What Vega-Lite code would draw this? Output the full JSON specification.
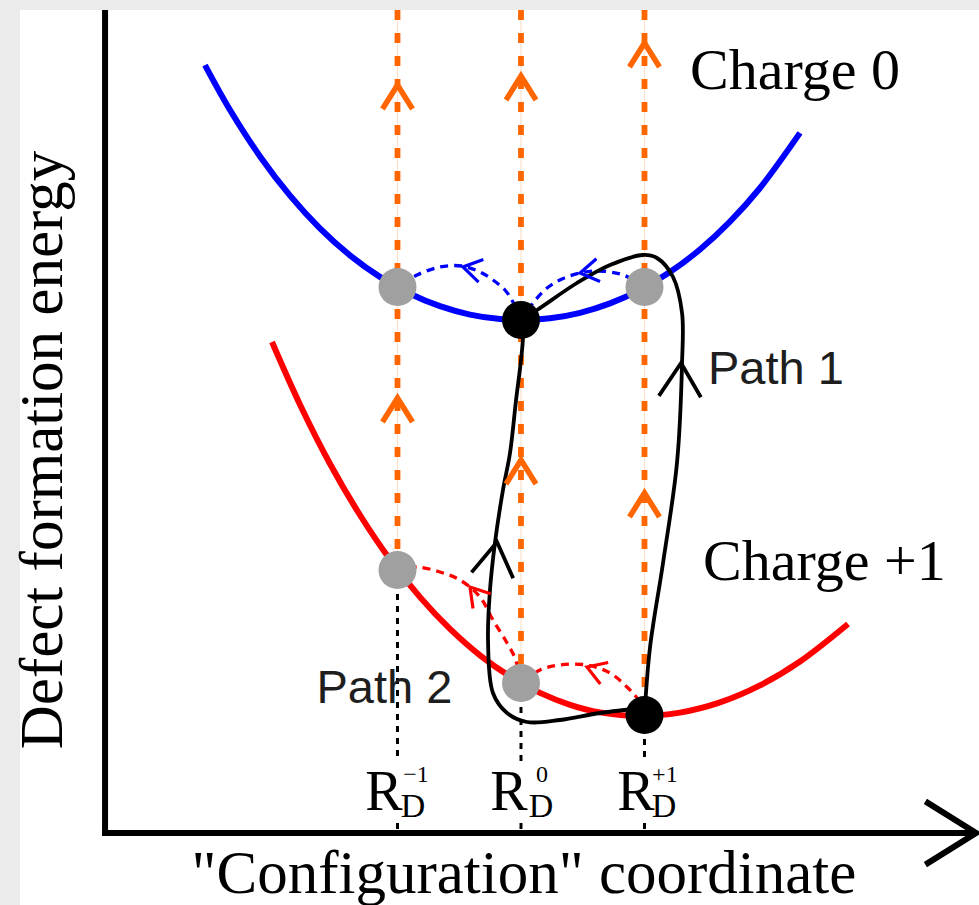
{
  "$schema": "https://vega.github.io/schema/vega-lite/v6.json",
  "width": 979,
  "height": 905,
  "autosize": {"type": "none"},
  "padding": 0,
  "background": "#ebebeb",
  "config": {"view": {"stroke": null}},
  "datasets": {
    "frame": [{"q0": -4.057, "q1": 3.7085, "E0": -0.70, "E1": 8.25}],
    "curves": [
      {"charge": "0", "i": 0, "q": -2.559, "E": 7.699},
      {"charge": "0", "i": 1, "q": -2.356, "E": 7.250},
      {"charge": "0", "i": 2, "q": -2.113, "E": 6.786},
      {"charge": "0", "i": 3, "q": -1.870, "E": 6.394},
      {"charge": "0", "i": 4, "q": -1.628, "E": 6.067},
      {"charge": "0", "i": 5, "q": -1.385, "E": 5.797},
      {"charge": "0", "i": 6, "q": -1.142, "E": 5.581},
      {"charge": "0", "i": 7, "q": -0.899, "E": 5.413},
      {"charge": "0", "i": 8, "q": -0.656, "E": 5.288},
      {"charge": "0", "i": 9, "q": -0.413, "E": 5.204},
      {"charge": "0", "i": 10, "q": -0.170, "E": 5.159},
      {"charge": "0", "i": 11, "q": 0.000, "E": 5.150},
      {"charge": "0", "i": 12, "q": 0.235, "E": 5.167},
      {"charge": "0", "i": 13, "q": 0.478, "E": 5.222},
      {"charge": "0", "i": 14, "q": 0.721, "E": 5.316},
      {"charge": "0", "i": 15, "q": 0.964, "E": 5.451},
      {"charge": "0", "i": 16, "q": 1.206, "E": 5.629},
      {"charge": "0", "i": 17, "q": 1.449, "E": 5.855},
      {"charge": "0", "i": 18, "q": 1.692, "E": 6.134},
      {"charge": "0", "i": 19, "q": 1.935, "E": 6.470},
      {"charge": "0", "i": 20, "q": 2.259, "E": 7.021},
      {"charge": "+1", "i": 0, "q": -2.016, "E": 4.930},
      {"charge": "+1", "i": 1, "q": -1.789, "E": 4.303},
      {"charge": "+1", "i": 2, "q": -1.547, "E": 3.713},
      {"charge": "+1", "i": 3, "q": -1.304, "E": 3.200},
      {"charge": "+1", "i": 4, "q": -1.061, "E": 2.756},
      {"charge": "+1", "i": 5, "q": -0.818, "E": 2.379},
      {"charge": "+1", "i": 6, "q": -0.575, "E": 2.061},
      {"charge": "+1", "i": 7, "q": -0.332, "E": 1.797},
      {"charge": "+1", "i": 8, "q": -0.089, "E": 1.586},
      {"charge": "+1", "i": 9, "q": 0.154, "E": 1.421},
      {"charge": "+1", "i": 10, "q": 0.397, "E": 1.302},
      {"charge": "+1", "i": 11, "q": 0.640, "E": 1.226},
      {"charge": "+1", "i": 12, "q": 0.964, "E": 1.190},
      {"charge": "+1", "i": 13, "q": 1.287, "E": 1.224},
      {"charge": "+1", "i": 14, "q": 1.611, "E": 1.326},
      {"charge": "+1", "i": 15, "q": 1.935, "E": 1.496},
      {"charge": "+1", "i": 16, "q": 2.259, "E": 1.735},
      {"charge": "+1", "i": 17, "q": 2.648, "E": 2.110}
    ],
    "arcs": [
      {"arc": "b1", "charge": "0", "i": 0, "q": 0.000, "E": 5.15},
      {"arc": "b1", "charge": "0", "i": 1, "q": -0.065, "E": 5.33},
      {"arc": "b1", "charge": "0", "i": 2, "q": -0.130, "E": 5.45},
      {"arc": "b1", "charge": "0", "i": 3, "q": -0.227, "E": 5.55},
      {"arc": "b1", "charge": "0", "i": 4, "q": -0.332, "E": 5.63},
      {"arc": "b1", "charge": "0", "i": 5, "q": -0.478, "E": 5.69},
      {"arc": "b1", "charge": "0", "i": 6, "q": -0.656, "E": 5.68},
      {"arc": "b1", "charge": "0", "i": 7, "q": -0.842, "E": 5.60},
      {"arc": "b1", "charge": "0", "i": 8, "q": -1.000, "E": 5.48},
      {"arc": "b2", "charge": "0", "i": 0, "q": 1.000, "E": 5.48},
      {"arc": "b2", "charge": "0", "i": 1, "q": 0.883, "E": 5.57},
      {"arc": "b2", "charge": "0", "i": 2, "q": 0.802, "E": 5.61},
      {"arc": "b2", "charge": "0", "i": 3, "q": 0.640, "E": 5.64},
      {"arc": "b2", "charge": "0", "i": 4, "q": 0.478, "E": 5.62},
      {"arc": "b2", "charge": "0", "i": 5, "q": 0.332, "E": 5.56},
      {"arc": "b2", "charge": "0", "i": 6, "q": 0.211, "E": 5.47},
      {"arc": "b2", "charge": "0", "i": 7, "q": 0.097, "E": 5.32},
      {"arc": "b2", "charge": "0", "i": 8, "q": 0.000, "E": 5.15},
      {"arc": "r1", "charge": "+1", "i": 0, "q": 0.000, "E": 1.52},
      {"arc": "r1", "charge": "+1", "i": 1, "q": -0.049, "E": 1.77},
      {"arc": "r1", "charge": "+1", "i": 2, "q": -0.113, "E": 1.92},
      {"arc": "r1", "charge": "+1", "i": 3, "q": -0.227, "E": 2.15},
      {"arc": "r1", "charge": "+1", "i": 4, "q": -0.332, "E": 2.38},
      {"arc": "r1", "charge": "+1", "i": 5, "q": -0.494, "E": 2.55},
      {"arc": "r1", "charge": "+1", "i": 6, "q": -0.656, "E": 2.63},
      {"arc": "r1", "charge": "+1", "i": 7, "q": -0.842, "E": 2.68},
      {"arc": "r1", "charge": "+1", "i": 8, "q": -1.000, "E": 2.65},
      {"arc": "r2", "charge": "+1", "i": 0, "q": 1.000, "E": 1.20},
      {"arc": "r2", "charge": "+1", "i": 1, "q": 0.939, "E": 1.37},
      {"arc": "r2", "charge": "+1", "i": 2, "q": 0.858, "E": 1.48},
      {"arc": "r2", "charge": "+1", "i": 3, "q": 0.721, "E": 1.62},
      {"arc": "r2", "charge": "+1", "i": 4, "q": 0.534, "E": 1.70},
      {"arc": "r2", "charge": "+1", "i": 5, "q": 0.316, "E": 1.70},
      {"arc": "r2", "charge": "+1", "i": 6, "q": 0.154, "E": 1.65},
      {"arc": "r2", "charge": "+1", "i": 7, "q": 0.000, "E": 1.52}
    ],
    "paths": [
      {"path": "Path 1", "i": 0, "q": 1.000, "E": 1.20},
      {"path": "Path 1", "i": 1, "q": 1.045, "E": 1.88},
      {"path": "Path 1", "i": 2, "q": 1.150, "E": 2.72},
      {"path": "Path 1", "i": 3, "q": 1.263, "E": 3.72},
      {"path": "Path 1", "i": 4, "q": 1.304, "E": 4.72},
      {"path": "Path 1", "i": 5, "q": 1.304, "E": 5.22},
      {"path": "Path 1", "i": 6, "q": 1.231, "E": 5.58},
      {"path": "Path 1", "i": 7, "q": 1.101, "E": 5.77},
      {"path": "Path 1", "i": 8, "q": 0.988, "E": 5.80},
      {"path": "Path 1", "i": 9, "q": 0.721, "E": 5.70},
      {"path": "Path 1", "i": 10, "q": 0.453, "E": 5.52},
      {"path": "Path 1", "i": 11, "q": 0.130, "E": 5.25},
      {"path": "Path 1", "i": 12, "q": 0.000, "E": 5.15},
      {"path": "Path 2", "i": 0, "q": 1.000, "E": 1.27},
      {"path": "Path 2", "i": 1, "q": 0.640, "E": 1.22},
      {"path": "Path 2", "i": 2, "q": 0.316, "E": 1.15},
      {"path": "Path 2", "i": 3, "q": 0.049, "E": 1.13},
      {"path": "Path 2", "i": 4, "q": -0.113, "E": 1.22},
      {"path": "Path 2", "i": 5, "q": -0.227, "E": 1.42},
      {"path": "Path 2", "i": 6, "q": -0.267, "E": 1.95},
      {"path": "Path 2", "i": 7, "q": -0.251, "E": 2.45},
      {"path": "Path 2", "i": 8, "q": -0.211, "E": 2.92},
      {"path": "Path 2", "i": 9, "q": -0.146, "E": 3.45},
      {"path": "Path 2", "i": 10, "q": -0.089, "E": 3.82},
      {"path": "Path 2", "i": 11, "q": -0.040, "E": 4.35},
      {"path": "Path 2", "i": 12, "q": 0.000, "E": 4.75},
      {"path": "Path 2", "i": 13, "q": 0.016, "E": 5.00},
      {"path": "Path 2", "i": 14, "q": 0.000, "E": 5.15}
    ],
    "levels": [
      {"q": -1, "top": 8.25, "bottom": 2.65},
      {"q": 0, "top": 8.25, "bottom": 1.52},
      {"q": 1, "top": 8.25, "bottom": 1.20}
    ],
    "markers": [
      {"q": -1, "top": 2.65, "bottom": 0.73},
      {"q": 0, "top": 1.52, "bottom": 0.73},
      {"q": 1, "top": 1.20, "bottom": 0.73},
      {"q": -1, "top": 0.12, "bottom": 0.02},
      {"q": 0, "top": 0.12, "bottom": 0.02},
      {"q": 1, "top": 0.12, "bottom": 0.02}
    ],
    "dots": [
      {"q": -1, "E": 5.48, "state": "excited"},
      {"q": 1, "E": 5.48, "state": "excited"},
      {"q": -1, "E": 2.65, "state": "excited"},
      {"q": 0, "E": 1.52, "state": "excited"},
      {"q": 0, "E": 5.15, "state": "equilibrium"},
      {"q": 1, "E": 1.20, "state": "equilibrium"}
    ],
    "arrows": [
      {"kind": "excitation", "charge": "none", "q": -1, "E": 7.50, "dir": 0},
      {"kind": "excitation", "charge": "none", "q": -1, "E": 4.37, "dir": 0},
      {"kind": "excitation", "charge": "none", "q": 0, "E": 7.59, "dir": 0},
      {"kind": "excitation", "charge": "none", "q": 0, "E": 3.75, "dir": 0},
      {"kind": "excitation", "charge": "none", "q": 1, "E": 7.92, "dir": 0},
      {"kind": "excitation", "charge": "none", "q": 1, "E": 3.42, "dir": 0},
      {"kind": "relaxation", "charge": "0", "q": -0.470, "E": 5.68, "dir": -78},
      {"kind": "relaxation", "charge": "0", "q": 0.478, "E": 5.62, "dir": -99},
      {"kind": "relaxation", "charge": "+1", "q": -0.413, "E": 2.48, "dir": -40},
      {"kind": "relaxation", "charge": "+1", "q": 0.534, "E": 1.68, "dir": -70},
      {"kind": "path", "charge": "none", "q": 1.296, "E": 4.72, "dir": 2},
      {"kind": "path", "charge": "none", "q": -0.194, "E": 2.93, "dir": 8}
    ],
    "axisLines": [
      {"axis": "E", "q": -3.368, "q2": -3.368, "E": 8.25, "E2": -0.01},
      {"axis": "q", "q": -3.39, "q2": 3.684, "E": 0.02, "E2": 0.02}
    ],
    "axisHead": [{"q": 3.684, "E": 0.02, "dir": 90}],
    "labels": [
      {"role": "state", "text": "Charge 0", "q": 1.368, "E": 7.465},
      {"role": "state", "text": "Charge +1", "q": 1.474, "E": 2.55},
      {"role": "path", "text": "Path 1", "q": 1.514, "E": 4.51},
      {"role": "path", "text": "Path 2", "q": -1.656, "E": 1.32},
      {"role": "R", "text": "R", "q": -1.109, "E": 0.25},
      {"role": "R", "text": "R", "q": -0.097, "E": 0.25},
      {"role": "R", "text": "R", "q": 0.931, "E": 0.25},
      {"role": "sub", "text": "D", "q": -0.874, "E": 0.18},
      {"role": "sub", "text": "D", "q": 0.162, "E": 0.18},
      {"role": "sub", "text": "D", "q": 1.158, "E": 0.18},
      {"role": "sup", "text": "−1", "q": -0.850, "E": 0.53},
      {"role": "sup", "text": "0", "q": 0.170, "E": 0.53},
      {"role": "sup", "text": "+1", "q": 1.165, "E": 0.53},
      {"role": "ytitle", "text": "Defect formation energy", "q": -3.717, "E": 3.85},
      {"role": "xtitle", "text": "\"Configuration\" coordinate", "q": 0.024, "E": -0.58}
    ]
  },
  "layer": [
    {
      "data": {"name": "frame"},
      "mark": {"type": "rect", "color": "#ffffff"},
      "encoding": {
        "x": {"field": "q0", "type": "quantitative", "scale": {"domain": [-4.2186, 3.7085], "nice": false, "zero": false}, "axis": null},
        "x2": {"field": "q1"},
        "y": {"field": "E0", "type": "quantitative", "scale": {"domain": [-0.70, 8.35], "nice": false, "zero": false}, "axis": null},
        "y2": {"field": "E1"}
      }
    },
    {
      "data": {"name": "levels"},
      "mark": {"type": "rule", "color": "#ffe0cc", "strokeWidth": 1.2},
      "encoding": {
        "x": {"field": "q", "type": "quantitative"},
        "y": {"field": "top", "type": "quantitative"},
        "y2": {"field": "bottom"}
      }
    },
    {
      "data": {"name": "levels"},
      "mark": {"type": "rule", "color": "#ff6600", "strokeWidth": 5.8, "strokeDash": [10, 13]},
      "encoding": {
        "x": {"field": "q", "type": "quantitative"},
        "y": {"field": "top", "type": "quantitative"},
        "y2": {"field": "bottom"}
      }
    },
    {
      "data": {"name": "markers"},
      "mark": {"type": "rule", "color": "#000000", "strokeWidth": 3, "strokeDash": [6, 6]},
      "encoding": {
        "x": {"field": "q", "type": "quantitative"},
        "y": {"field": "top", "type": "quantitative"},
        "y2": {"field": "bottom"}
      }
    },
    {
      "data": {"name": "curves"},
      "mark": {"type": "line", "interpolate": "catmull-rom", "strokeWidth": 6},
      "encoding": {
        "x": {"field": "q", "type": "quantitative"},
        "y": {"field": "E", "type": "quantitative"},
        "order": {"field": "i", "type": "quantitative"},
        "color": {"field": "charge", "type": "nominal", "scale": {"domain": ["0", "+1", "none"], "range": ["#0000ff", "#ff0000", "#000000"]}, "legend": null}
      }
    },
    {
      "data": {"name": "arcs"},
      "mark": {"type": "line", "interpolate": "catmull-rom", "strokeWidth": 3.3, "strokeDash": [8, 6]},
      "encoding": {
        "x": {"field": "q", "type": "quantitative"},
        "y": {"field": "E", "type": "quantitative"},
        "order": {"field": "i", "type": "quantitative"},
        "detail": {"field": "arc", "type": "nominal"},
        "color": {"field": "charge", "type": "nominal", "legend": null}
      }
    },
    {
      "data": {"name": "paths"},
      "mark": {"type": "line", "interpolate": "catmull-rom", "strokeWidth": 3.8, "color": "#000000"},
      "encoding": {
        "x": {"field": "q", "type": "quantitative"},
        "y": {"field": "E", "type": "quantitative"},
        "order": {"field": "i", "type": "quantitative"},
        "detail": {"field": "path", "type": "nominal"}
      }
    },
    {
      "data": {"name": "arrows"},
      "transform": [{"filter": "datum.kind === 'excitation'"}],
      "mark": {"type": "point", "shape": "M -1 1.6 L 0 0 L 1 1.6", "filled": false, "size": 900, "strokeWidth": 5.5, "color": "#ff6600", "opacity": 1},
      "encoding": {
        "x": {"field": "q", "type": "quantitative"},
        "y": {"field": "E", "type": "quantitative"},
        "angle": {"field": "dir", "type": "quantitative", "scale": null}
      }
    },
    {
      "data": {"name": "arrows"},
      "transform": [{"filter": "datum.kind === 'relaxation'"}],
      "mark": {"type": "point", "shape": "M -1 1.6 L 0 0 L 1 1.6", "filled": false, "size": 529, "strokeWidth": 3.2, "opacity": 1},
      "encoding": {
        "x": {"field": "q", "type": "quantitative"},
        "y": {"field": "E", "type": "quantitative"},
        "angle": {"field": "dir", "type": "quantitative", "scale": null},
        "color": {"field": "charge", "type": "nominal", "legend": null}
      }
    },
    {
      "data": {"name": "arrows"},
      "transform": [{"filter": "datum.kind === 'path'"}],
      "mark": {"type": "point", "shape": "M -1 1.6 L 0 0 L 1 1.6", "filled": false, "size": 1764, "strokeWidth": 3.8, "color": "#000000", "opacity": 1},
      "encoding": {
        "x": {"field": "q", "type": "quantitative"},
        "y": {"field": "E", "type": "quantitative"},
        "angle": {"field": "dir", "type": "quantitative", "scale": null}
      }
    },
    {
      "data": {"name": "dots"},
      "mark": {"type": "point", "shape": "circle", "filled": true, "size": 1444, "opacity": 1},
      "encoding": {
        "x": {"field": "q", "type": "quantitative"},
        "y": {"field": "E", "type": "quantitative"},
        "fill": {"field": "state", "type": "nominal", "scale": {"domain": ["excited", "equilibrium"], "range": ["#a0a0a0", "#000000"]}, "legend": null}
      }
    },
    {
      "data": {"name": "axisLines"},
      "mark": {"type": "rule", "color": "#000000", "strokeWidth": 6},
      "encoding": {
        "x": {"field": "q", "type": "quantitative"},
        "x2": {"field": "q2"},
        "y": {"field": "E", "type": "quantitative"},
        "y2": {"field": "E2"}
      }
    },
    {
      "data": {"name": "axisHead"},
      "mark": {"type": "point", "shape": "M -1 1.6 L 0 0 L 1 1.6", "filled": false, "size": 4000, "strokeWidth": 6, "color": "#000000", "opacity": 1},
      "encoding": {
        "x": {"field": "q", "type": "quantitative"},
        "y": {"field": "E", "type": "quantitative"},
        "angle": {"field": "dir", "type": "quantitative", "scale": null}
      }
    },
    {
      "data": {"name": "labels"},
      "transform": [{"filter": "datum.role === 'state'"}],
      "mark": {"type": "text", "font": "Liberation Serif", "fontSize": 58, "align": "left", "baseline": "alphabetic", "color": "#000000"},
      "encoding": {
        "x": {"field": "q", "type": "quantitative"},
        "y": {"field": "E", "type": "quantitative"},
        "text": {"field": "text"}
      }
    },
    {
      "data": {"name": "labels"},
      "transform": [{"filter": "datum.role === 'path'"}],
      "mark": {"type": "text", "font": "Liberation Sans", "fontSize": 47, "align": "left", "baseline": "alphabetic", "color": "#1e1e1e"},
      "encoding": {
        "x": {"field": "q", "type": "quantitative"},
        "y": {"field": "E", "type": "quantitative"},
        "text": {"field": "text"}
      }
    },
    {
      "data": {"name": "labels"},
      "transform": [{"filter": "datum.role === 'R'"}],
      "mark": {"type": "text", "font": "Liberation Serif", "fontSize": 56, "align": "center", "baseline": "alphabetic", "color": "#000000"},
      "encoding": {
        "x": {"field": "q", "type": "quantitative"},
        "y": {"field": "E", "type": "quantitative"},
        "text": {"field": "text"}
      }
    },
    {
      "data": {"name": "labels"},
      "transform": [{"filter": "datum.role === 'sub'"}],
      "mark": {"type": "text", "font": "Liberation Serif", "fontSize": 34, "align": "center", "baseline": "alphabetic", "color": "#000000"},
      "encoding": {
        "x": {"field": "q", "type": "quantitative"},
        "y": {"field": "E", "type": "quantitative"},
        "text": {"field": "text"}
      }
    },
    {
      "data": {"name": "labels"},
      "transform": [{"filter": "datum.role === 'sup'"}],
      "mark": {"type": "text", "font": "Liberation Serif", "fontSize": 24, "align": "center", "baseline": "alphabetic", "color": "#000000"},
      "encoding": {
        "x": {"field": "q", "type": "quantitative"},
        "y": {"field": "E", "type": "quantitative"},
        "text": {"field": "text"}
      }
    },
    {
      "data": {"name": "labels"},
      "transform": [{"filter": "datum.role === 'ytitle'"}],
      "mark": {"type": "text", "font": "Liberation Serif", "fontSize": 61, "align": "center", "baseline": "alphabetic", "angle": 270, "color": "#000000"},
      "encoding": {
        "x": {"field": "q", "type": "quantitative"},
        "y": {"field": "E", "type": "quantitative"},
        "text": {"field": "text"}
      }
    },
    {
      "data": {"name": "labels"},
      "transform": [{"filter": "datum.role === 'xtitle'"}],
      "mark": {"type": "text", "font": "Liberation Serif", "fontSize": 61, "align": "center", "baseline": "alphabetic", "color": "#000000"},
      "encoding": {
        "x": {"field": "q", "type": "quantitative"},
        "y": {"field": "E", "type": "quantitative"},
        "text": {"field": "text"}
      }
    }
  ]
}
